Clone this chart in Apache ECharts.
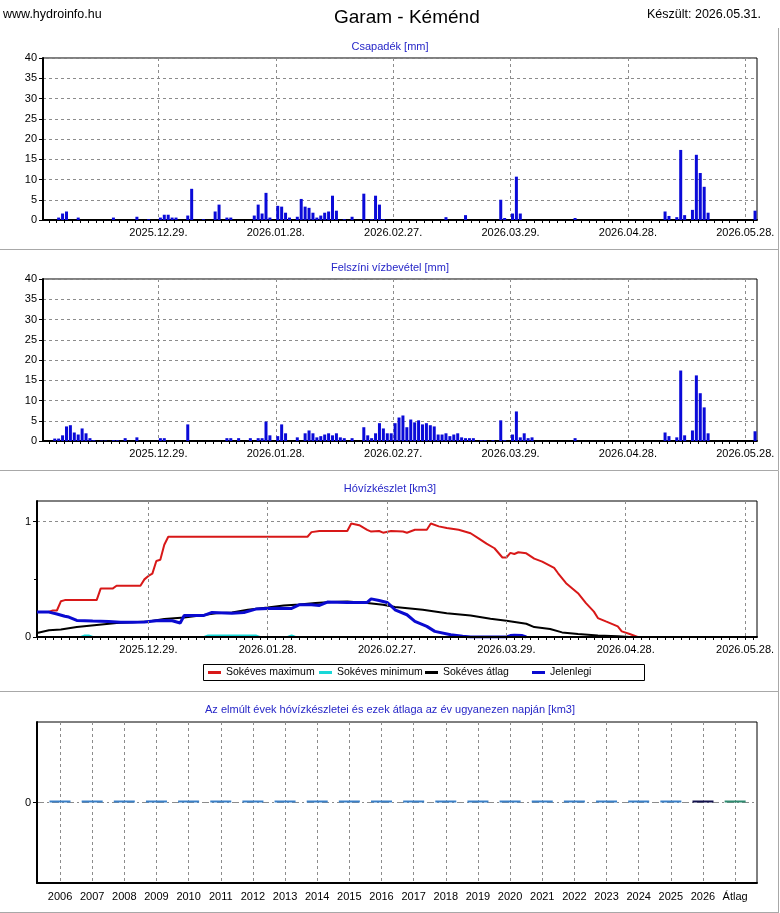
<!DOCTYPE html>
<html>
<head>
<meta charset="utf-8">
<script src="https://cdn.jsdelivr.net/npm/echarts@6/dist/echarts.min.js"></script>
<style>
html,body{margin:0;padding:0;background:#fff;}
#main{width:780px;height:913px;}
</style>
</head>
<body>
<div id="main"></div>
<script>
// napi csapadek [mm]
var precipDates=['2025.12.03','2025.12.04','2025.12.05','2025.12.08','2025.12.17','2025.12.23','2025.12.26','2025.12.29','2025.12.30','2025.12.31',
    '2026.01.01','2026.01.02','2026.01.05','2026.01.06','2026.01.09','2026.01.12','2026.01.13','2026.01.15','2026.01.16','2026.01.22',
    '2026.01.23','2026.01.24','2026.01.25','2026.01.26','2026.01.28','2026.01.29','2026.01.30','2026.01.31','2026.02.02','2026.02.03',
    '2026.02.04','2026.02.05','2026.02.06','2026.02.07','2026.02.08','2026.02.09','2026.02.10','2026.02.11','2026.02.12','2026.02.14',
    '2026.02.16','2026.02.19','2026.02.21','2026.02.22','2026.02.23','2026.02.24','2026.03.12','2026.03.17','2026.03.26','2026.03.27',
    '2026.03.29','2026.03.30','2026.03.31','2026.04.14','2026.05.07','2026.05.08','2026.05.10','2026.05.11','2026.05.12','2026.05.14',
    '2026.05.15','2026.05.16','2026.05.17','2026.05.18','2026.05.30'];
var precipValues=[0.6,1.6,2.1,0.6,0.6,0.8,0.2,0.6,1.3,1.3,
    0.6,0.6,1.1,7.7,0.2,2.1,3.8,0.6,0.6,1.1,
    3.8,1.6,6.7,0.6,3.5,3.3,1.8,0.6,0.8,5.2,
    3.3,3.0,1.8,0.6,1.1,1.8,2.1,6.0,2.3,0.2,
    0.8,6.5,0.2,6.0,3.8,0.2,0.7,1.2,5.0,0.5,
    1.6,10.7,1.6,0.5,2.1,1.0,0.7,17.3,1.2,2.5,
    16.1,11.6,8.2,1.8,2.3];

// felszini vizbevetel [mm]
var intakeDates=['2025.12.02','2025.12.03','2025.12.04','2025.12.05','2025.12.06','2025.12.07','2025.12.08','2025.12.09','2025.12.10','2025.12.11',
    '2025.12.12','2025.12.14','2025.12.15','2025.12.17','2025.12.18','2025.12.20','2025.12.23','2025.12.29','2025.12.30','2026.01.05',
    '2026.01.15','2026.01.16','2026.01.18','2026.01.21','2026.01.23','2026.01.24','2026.01.25','2026.01.26','2026.01.28','2026.01.29',
    '2026.01.30','2026.02.02','2026.02.04','2026.02.05','2026.02.06','2026.02.07','2026.02.08','2026.02.09','2026.02.10','2026.02.11',
    '2026.02.12','2026.02.13','2026.02.14','2026.02.16','2026.02.19','2026.02.20','2026.02.21','2026.02.22','2026.02.23','2026.02.24',
    '2026.02.25','2026.02.26','2026.02.27','2026.02.28','2026.03.01','2026.03.02','2026.03.03','2026.03.04','2026.03.05','2026.03.06',
    '2026.03.07','2026.03.08','2026.03.09','2026.03.10','2026.03.11','2026.03.12','2026.03.13','2026.03.14','2026.03.15','2026.03.16',
    '2026.03.17','2026.03.18','2026.03.19','2026.03.21','2026.03.22','2026.03.24','2026.03.26','2026.03.27','2026.03.29','2026.03.30',
    '2026.03.31','2026.04.01','2026.04.02','2026.04.03','2026.04.14','2026.05.07','2026.05.08','2026.05.10','2026.05.11','2026.05.12',
    '2026.05.14','2026.05.15','2026.05.16','2026.05.17','2026.05.18','2026.05.30'];
var intakeValues=[0.6,0.6,1.4,3.6,3.9,2.1,1.6,3.1,1.9,0.7,
    0.2,0.1,0.1,0.2,0.2,0.7,0.9,0.7,0.7,4.1,
    0.7,0.7,0.7,0.7,0.7,0.7,4.8,1.4,1.2,4.1,
    1.9,0.9,1.9,2.6,1.9,0.9,1.2,1.6,1.9,1.4,
    1.9,0.9,0.7,0.7,3.4,1.4,0.7,1.9,4.4,3.1,
    1.9,1.9,4.4,5.8,6.3,3.4,5.3,4.6,5.1,4.1,
    4.4,3.9,3.6,1.6,1.6,1.9,1.2,1.6,1.9,0.9,
    0.7,0.7,0.7,0.2,0.2,0.2,5.1,0.2,1.6,7.3,
    0.9,1.9,0.7,0.9,0.7,2.1,1.2,0.9,17.4,1.4,
    2.6,16.2,11.8,8.3,1.9,2.4];

// hovizkeszlet [km3]
var maxDates=['2025.12.01','2025.12.04','2025.12.05','2025.12.06','2025.12.07','2025.12.08','2025.12.16','2025.12.17','2025.12.20','2025.12.21',
    '2025.12.27','2025.12.28','2025.12.29','2025.12.30','2025.12.31','2026.01.01','2026.01.02','2026.01.03','2026.02.07','2026.02.08',
    '2026.02.10','2026.02.17','2026.02.18','2026.02.20','2026.02.22','2026.02.23','2026.02.25','2026.02.26','2026.02.28','2026.03.03',
    '2026.03.04','2026.03.06','2026.03.09','2026.03.10','2026.03.12','2026.03.14','2026.03.17','2026.03.20','2026.03.22','2026.03.24',
    '2026.03.26','2026.03.28','2026.03.29','2026.03.30','2026.03.31','2026.04.01','2026.04.03','2026.04.05','2026.04.07','2026.04.10',
    '2026.04.11','2026.04.13','2026.04.16','2026.04.18','2026.04.20','2026.04.21','2026.04.23','2026.04.26','2026.04.27','2026.04.29',
    '2026.05.01'];
var maxValues=[0.216,0.22,0.23,0.23,0.31,0.32,0.32,0.42,0.42,0.445,
    0.445,0.50,0.53,0.55,0.66,0.67,0.80,0.87,0.87,0.91,
    0.92,0.92,0.985,0.97,0.93,0.915,0.92,0.905,0.92,0.915,
    0.905,0.93,0.93,0.985,0.96,0.945,0.93,0.90,0.856,0.81,
    0.77,0.69,0.69,0.73,0.72,0.735,0.726,0.68,0.654,0.60,
    0.553,0.467,0.38,0.294,0.22,0.164,0.135,0.092,0.049,0.026,
    0];
var minDates=['2025.12.01','2025.12.12','2025.12.13','2025.12.14','2025.12.15','2026.01.12','2026.01.13','2026.01.25','2026.01.26','2026.02.02',
    '2026.02.03','2026.02.04','2026.05.01'];
var minValues=[0,0,0.013,0.013,0,0,0.013,0.013,0,0,
    0.013,0,0];
var avgDates=['2025.12.01','2025.12.04','2025.12.07','2025.12.11','2025.12.16','2025.12.21','2025.12.25','2025.12.29','2026.01.02','2026.01.07',
    '2026.01.11','2026.01.15','2026.01.19','2026.01.23','2026.01.28','2026.02.01','2026.02.05','2026.02.09','2026.02.13','2026.02.17',
    '2026.02.22','2026.02.26','2026.03.01','2026.03.08','2026.03.14','2026.03.20','2026.03.25','2026.03.29','2026.04.03','2026.04.05',
    '2026.04.09','2026.04.12','2026.04.16','2026.04.21','2026.04.26','2026.04.29'];
var avgValues=[0.035,0.058,0.066,0.086,0.104,0.121,0.127,0.135,0.156,0.17,
    0.187,0.207,0.213,0.236,0.256,0.274,0.282,0.294,0.303,0.308,
    0.294,0.28,0.26,0.236,0.207,0.187,0.158,0.141,0.115,0.086,
    0.069,0.04,0.026,0.014,0.006,0];
var curDates=['2025.12.01','2025.12.04','2025.12.06','2025.12.08','2025.12.09','2025.12.11','2025.12.15','2025.12.19','2025.12.22','2025.12.25',
    '2025.12.28','2025.12.31','2026.01.02','2026.01.04','2026.01.06','2026.01.07','2026.01.12','2026.01.14','2026.01.19','2026.01.22',
    '2026.01.25','2026.01.28','2026.01.31','2026.02.03','2026.02.05','2026.02.08','2026.02.10','2026.02.12','2026.02.17','2026.02.22',
    '2026.02.23','2026.02.25','2026.02.27','2026.02.28','2026.03.01','2026.03.04','2026.03.06','2026.03.09','2026.03.11','2026.03.15',
    '2026.03.18','2026.03.20','2026.03.29','2026.03.30','2026.03.31','2026.04.02','2026.04.03'];
var curValues=[0.216,0.216,0.20,0.18,0.173,0.144,0.138,0.135,0.127,0.127,
    0.13,0.141,0.144,0.141,0.121,0.187,0.187,0.213,0.207,0.213,
    0.242,0.248,0.25,0.248,0.28,0.28,0.274,0.303,0.30,0.30,
    0.331,0.317,0.30,0.27,0.236,0.193,0.135,0.092,0.049,0.02,
    0.006,0,0,0.012,0.015,0.012,0];

// korabbi evek ugyanazon napja [km3]
var yearLabels=['2006','2007','2008','2009','2010','2011','2012','2013','2014','2015','2016',
    '2017','2018','2019','2020','2021','2022','2023','2024','2025','2026','Átlag'];
var yearValues=[0,0,0,0,0,0,0,0,0,0,0,0,0,0,0,0,0,0,0,0,0,0];

var dateTicks=[0,30,60,90,120,150];
var legendNames=['Sokéves maximum','Sokéves minimum','Sokéves átlag','Jelenlegi'];
var legendLefts=[208,319,425,532];

var FONT='"Liberation Sans", Arial, sans-serif';
var BASE=Date.UTC(2025,11,29);
function dayOf(s){
    var p=s.split('.');
    return (Date.UTC(+p[0],+p[1]-1,+p[2])-BASE)/86400000;
}
function pad(n){return n<10?'0'+n:''+n;}
function dayLabel(v){
    var d=new Date(BASE+v*86400000);
    return d.getUTCFullYear()+'.'+pad(d.getUTCMonth()+1)+'.'+pad(d.getUTCDate())+'.';
}
function evenTicks(lo,hi){
    var t=[];
    for(var v=Math.ceil(lo/2)*2;v<=hi;v+=2){t.push(v);}
    return t;
}
function barData(dates,values){
    var out=[];
    for(var i=0;i<dates.length;i++){out.push([dayOf(dates[i])+0.5,values[i]]);}
    return out;
}
function lineData(dates,values){
    var out=[];
    for(var i=0;i<dates.length;i++){out.push([dayOf(dates[i]),values[i]]);}
    return out;
}

var gridLineStyle={color:'#8c8c8c',width:1,type:[3,3]};
var axisLineStyle={color:'#000',width:2};

function dateAxis(gridIndex,min,max,z){
    return {
        type:'value',gridIndex:gridIndex,min:min,max:max,position:'bottom',z:z||0,
        axisLine:{show:true,onZero:false,lineStyle:axisLineStyle},
        axisTick:{show:true,length:3,customValues:dateTicks,lineStyle:{color:'#000'}},
        axisLabel:{customValues:dateTicks,formatter:dayLabel,margin:7,fontFamily:FONT,fontSize:11,color:'#000'},
        splitLine:{show:true,lineStyle:gridLineStyle}
    };
}
function minorAxis(gridIndex,min,max){
    return {
        type:'value',gridIndex:gridIndex,min:min,max:max,position:'bottom',
        axisLine:{show:false,onZero:false},
        axisTick:{show:true,length:3,customValues:evenTicks(min,max),lineStyle:{color:'#000'}},
        axisLabel:{show:false},
        splitLine:{show:false}
    };
}
function mmAxis(gridIndex){
    return {
        type:'value',gridIndex:gridIndex,min:0,max:40,interval:5,
        axisLine:{show:true,onZero:false,lineStyle:axisLineStyle},
        axisTick:{show:true,length:4,lineStyle:{color:'#000'}},
        axisLabel:{margin:6,fontFamily:FONT,fontSize:11,color:'#000'},
        splitLine:{show:true,lineStyle:gridLineStyle}
    };
}
var gridBox={show:true,borderColor:'#000',borderWidth:1,backgroundColor:'transparent'};
function subTitle(text,top){
    return {text:text,left:'center',top:top,padding:0,textStyle:{fontFamily:FONT,fontSize:11,fontWeight:'normal',color:'#2626c8'}};
}

var legends=legendNames.map(function(name,i){
    return {
        data:[name],left:legendLefts[i],top:667,padding:0,
        icon:'rect',itemWidth:13,itemHeight:3,
        selectedMode:false,
        textStyle:{fontFamily:FONT,fontSize:10.5,color:'#000'}
    };
});

var myChart=echarts.init(document.getElementById('main'));
var option={
    animation:false,
    backgroundColor:'#fff',
    title:[
        {text:'www.hydroinfo.hu',left:3,top:8,padding:0,textStyle:{fontFamily:FONT,fontSize:12.5,fontWeight:'normal',color:'#000'}},
        {text:'Garam - Kéménd',left:334,top:8,padding:0,textStyle:{fontFamily:FONT,fontSize:19,fontWeight:'normal',color:'#000'}},
        {text:'Készült: 2026.05.31.',right:19,top:8,padding:0,textStyle:{fontFamily:FONT,fontSize:12.5,fontWeight:'normal',color:'#000'}},
        subTitle('Csapadék [mm]',41),
        subTitle('Felszíni vízbevétel [mm]',262),
        subTitle('Hóvízkészlet [km3]',483),
        subTitle('Az elmúlt évek hóvízkészletei és ezek átlaga az év ugyanezen napján [km3]',704)
    ],
    legend:legends,
    grid:[
        Object.assign({left:43,top:58,width:714,height:162},gridBox),
        Object.assign({left:43,top:279,width:714,height:162},gridBox),
        Object.assign({left:37,top:501,width:720,height:136},gridBox),
        Object.assign({left:37,top:722,width:720,height:161},gridBox)
    ],
    xAxis:[
        dateAxis(0,-29.5,153),
        minorAxis(0,-29.5,153),
        dateAxis(1,-29.5,153),
        minorAxis(1,-29.5,153),
        dateAxis(2,-28,153,10),
        minorAxis(2,-28,153),
        {
            type:'value',gridIndex:3,min:-0.716,max:21.68,position:'bottom',
            axisLine:{show:true,onZero:false,lineStyle:axisLineStyle},
            axisTick:{show:false,customValues:yearLabels.map(function(y,i){return i;})},
            axisLabel:{customValues:yearLabels.map(function(y,i){return i;}),
                formatter:function(v){return yearLabels[Math.round(v)];},
                margin:8,fontFamily:FONT,fontSize:11,color:'#000'},
            splitLine:{show:true,lineStyle:gridLineStyle}
        }
    ],
    yAxis:[
        mmAxis(0),
        mmAxis(1),
        {
            type:'value',gridIndex:2,min:0,max:1.18,interval:1,
            axisLine:{show:true,onZero:false,lineStyle:axisLineStyle},
            axisTick:{show:true,length:4,customValues:[0,1],lineStyle:{color:'#000'}},
            minorTick:{show:true,splitNumber:2,length:3,lineStyle:{color:'#000'}},
            axisLabel:{customValues:[0,1],margin:6,fontFamily:FONT,fontSize:11,color:'#000'},
            splitLine:{show:true,lineStyle:gridLineStyle}
        },
        {
            type:'value',gridIndex:3,min:-1,max:1,
            axisLine:{show:true,onZero:false,lineStyle:axisLineStyle},
            axisTick:{show:true,length:4,customValues:[0],lineStyle:{color:'#000'}},
            axisLabel:{customValues:[0],margin:6,fontFamily:FONT,fontSize:11,color:'#000'},
            splitLine:{show:true,lineStyle:{color:'#8c8c8c',width:1,type:[7,3,2,3]}}
        }
    ],
    graphic:[
        {type:'rect',shape:{x:203.5,y:664.5,width:441,height:16},style:{fill:'none',stroke:'#000',lineWidth:1},silent:true},
        {type:'line',shape:{x1:0,y1:249.5,x2:778,y2:249.5},style:{stroke:'#a8a8a8',lineWidth:1},silent:true},
        {type:'line',shape:{x1:0,y1:470.5,x2:778,y2:470.5},style:{stroke:'#a8a8a8',lineWidth:1},silent:true},
        {type:'line',shape:{x1:0,y1:691.5,x2:778,y2:691.5},style:{stroke:'#a8a8a8',lineWidth:1},silent:true},
        {type:'line',shape:{x1:0,y1:912.5,x2:778,y2:912.5},style:{stroke:'#a8a8a8',lineWidth:1},silent:true},
        {type:'line',shape:{x1:778.5,y1:28,x2:778.5,y2:913},style:{stroke:'#a8a8a8',lineWidth:1},silent:true}
    ],
    series:[
        {name:'Csapadék',type:'bar',xAxisIndex:0,yAxisIndex:0,barWidth:3,
            itemStyle:{color:'#0a0ad8'},data:barData(precipDates,precipValues)},
        {name:'Felszíni vízbevétel',type:'bar',xAxisIndex:2,yAxisIndex:1,barWidth:3,
            itemStyle:{color:'#0a0ad8'},data:barData(intakeDates,intakeValues)},
        {name:'Sokéves maximum',type:'line',xAxisIndex:4,yAxisIndex:2,showSymbol:false,
            color:'#d81818',lineStyle:{width:2,color:'#d81818'},data:lineData(maxDates,maxValues)},
        {name:'Sokéves minimum',type:'line',xAxisIndex:4,yAxisIndex:2,showSymbol:false,
            color:'#18d8d8',lineStyle:{width:2,color:'#18d8d8'},data:lineData(minDates,minValues)},
        {name:'Sokéves átlag',type:'line',xAxisIndex:4,yAxisIndex:2,showSymbol:false,
            color:'#000',lineStyle:{width:2,color:'#000'},data:lineData(avgDates,avgValues)},
        {name:'Jelenlegi',type:'line',xAxisIndex:4,yAxisIndex:2,showSymbol:false,
            color:'#0a0ad0',lineStyle:{width:3,color:'#0a0ad0'},data:lineData(curDates,curValues)},
        {name:'Évek',type:'bar',xAxisIndex:6,yAxisIndex:3,barWidth:21,barMinHeight:2,
            itemStyle:{color:function(p){
                if(p.dataIndex===yearLabels.length-1){return '#2e8b70';}
                if(p.dataIndex===yearLabels.length-2){return '#12124e';}
                return '#3a80c8';
            }},
            data:yearValues.map(function(v,i){return [i,v];})}
    ]
};
myChart.setOption(option);
</script>
</body>
</html>
